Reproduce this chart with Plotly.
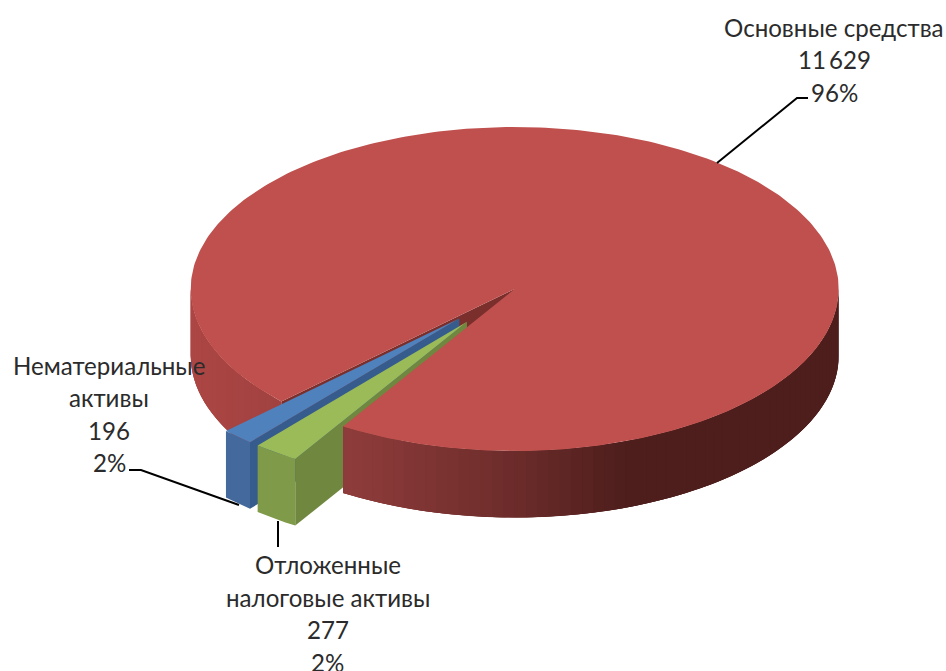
import math
import plotly.graph_objects as go

# ---- data ----
categories = ["Нематериальные активы", "Основные средства", "Отложенные налоговые активы"]
values = [196, 11629, 277]
value_labels = ["196", "11\u2009629", "277"]
name_lines = [["Нематериальные", "активы"], ["Основные средства"], ["Отложенные", "налоговые активы"]]

# ---- drawing geometry / styling ----
W, H = 946, 671
CX, CY, RX, RY, DEPTH = 514.7, 289, 324, 162, 66.5
EXPLODE = [0.25, 0.0, 0.25]
GREEN_START = 32.0          # degrees clockwise from the front of the pie
TOP = ["#4F81BD", "#BF504D", "#9BBB59"]
OUTER = ["#44699C", None, "#7F9A48"]
WALL = ["#355C8C", "#7A2F2D", "#6F873F"]
RED_SIDE_STOPS = [(190, (172, 70, 68)), (282, (160, 66, 64)), (343, (143, 60, 60)),
                  (514, (108, 44, 42)), (625, (78, 30, 28)), (838, (78, 30, 28))]
FONT = dict(family="Lato, Carlito, sans-serif", size=24.1, color="#2b2b2b")
LABEL_POS = [(109, 365), (834, 27), (327.5, 564.5)]
LINE_STEP = 32.5
LEADERS = [[(129, 470), (141, 470), (239, 505)],
           [(717, 163), (797, 98), (808, 98)],
           [(278, 521), (278, 547)]]

total = sum(values)
sweep = [v / total * 360 for v in values]


def pt(theta, dx=0.0, dy=0.0, r=1.0, down=0.0):
    t = math.radians(theta)
    return (dx + CX - r * RX * math.sin(t), dy + CY + r * RY * math.cos(t) + down)


def offset(mid, k):
    t = math.radians(mid)
    return (-k * RX * math.sin(t), k * RY * math.cos(t))


def arc(a, b, dx=0.0, dy=0.0, down=0.0, step=1.0):
    n = max(2, int(abs(b - a) / step) + 1)
    return [pt(a + (b - a) * i / (n - 1), dx, dy, down=down) for i in range(n)]


def red_colour(x):
    for (x0, c0), (x1, c1) in zip(RED_SIDE_STOPS, RED_SIDE_STOPS[1:]):
        if x <= x1:
            f = max(0.0, (x - x0) / (x1 - x0))
            return "rgb(%d,%d,%d)" % tuple(round(p + (q - p) * f) for p, q in zip(c0, c1))
    return "rgb(%d,%d,%d)" % RED_SIDE_STOPS[-1][1]


fig = go.Figure()


def poly(points, colour, line_w=0.0):
    xs = [p[0] for p in points] + [points[0][0]]
    ys = [p[1] for p in points] + [points[0][1]]
    fig.add_trace(go.Scatter(x=xs, y=ys, mode="lines", fill="toself", fillcolor=colour,
                             line=dict(color=colour, width=line_w), hoverinfo="skip",
                             showlegend=False))


def side_strips(a, b, step=2.0):
    # each strip runs on past its end and is overpainted by the next,
    # so no seams show between neighbouring colours
    n = max(1, int(abs(b - a) / step))
    for i in range(n):
        t0 = a + (b - a) * i / n
        t1 = a + (b - a) * (i + 1) / n
        t2 = a + (b - a) * min(n, i + 3) / n
        poly(arc(t0, t2) + arc(t2, t0, down=DEPTH), red_colour((pt(t0)[0] + pt(t1)[0]) / 2))


# clockwise order from the front: green, blue, red
g_a, g_b = GREEN_START, GREEN_START + sweep[2]
b_a, b_b = g_b, g_b + sweep[0]
r_a, r_b = b_b, b_b + sweep[1]

# red: rim on the left of the cut, and its inner wall
side_strips(r_a, 90)
apex = pt(0, r=0)
poly([apex, pt(r_a), pt(r_a, down=DEPTH), (apex[0], apex[1] + DEPTH)], WALL[1])

# exploded slices
for idx, (a, b) in ((0, (b_a, b_b)), (2, (g_a, g_b))):
    dx, dy = offset((a + b) / 2, EXPLODE[idx])
    tip = (CX + dx, CY + dy)
    tip_low = (tip[0], tip[1] + DEPTH)
    poly([tip, pt(a, dx, dy), pt(a, dx, dy, down=DEPTH), tip_low], WALL[idx])
    poly(arc(a, b, dx, dy) + arc(b, a, dx, dy, down=DEPTH), OUTER[idx])
    poly([tip] + arc(a, b, dx, dy), TOP[idx])

# red: right rim and top, drawn last so they cover the green wall
side_strips(270, r_b)
poly([apex] + arc(r_a, r_b), TOP[1])

# leader lines
for pts in LEADERS:
    fig.add_trace(go.Scatter(x=[p[0] for p in pts], y=[p[1] for p in pts], mode="lines",
                             line=dict(color="#000000", width=2), hoverinfo="skip",
                             showlegend=False))

# labels
annotations = []
for i, (x, y) in enumerate(LABEL_POS):
    lines = name_lines[i] + [value_labels[i], f"{round(values[i] / total * 100)}%"]
    for j, txt in enumerate(lines):
        annotations.append(dict(x=x, y=y + j * LINE_STEP, text=txt, showarrow=False,
                                xanchor="center", yanchor="middle", font=FONT))

fig.update_layout(
    width=W, height=H, margin=dict(l=0, r=0, t=0, b=0),
    paper_bgcolor="white", plot_bgcolor="white", showlegend=False,
    xaxis=dict(range=[0, W], visible=False, fixedrange=True),
    yaxis=dict(range=[H, 0], visible=False, fixedrange=True),
    annotations=annotations,
)
fig.write_html("out.html", config={"displayModeBar": False},
               post_script="document.body.style.margin='0';document.documentElement.style.overflow='hidden';")
